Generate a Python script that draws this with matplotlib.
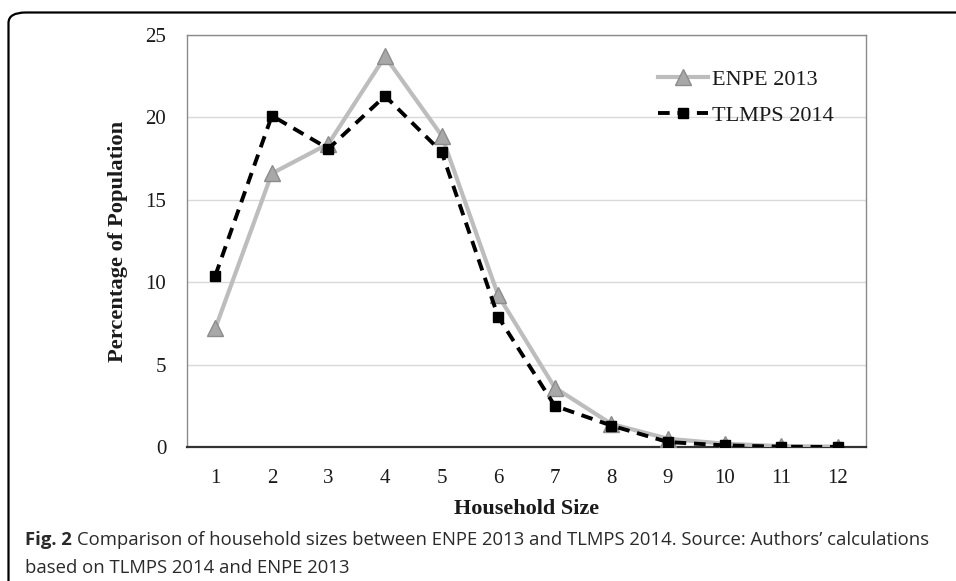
import matplotlib
matplotlib.use("Agg")
import matplotlib.pyplot as plt
from matplotlib.patches import FancyBboxPatch

household_size = ["1", "2", "3", "4", "5", "6", "7", "8", "9", "10", "11", "12"]
enpe_2013 = [7.2, 16.6, 18.4, 23.7, 18.9, 9.2, 3.6, 1.4, 0.5, 0.2, 0.05, 0.02]
tlmps_2014 = [10.4, 20.1, 18.1, 21.3, 17.9, 7.9, 2.5, 1.3, 0.3, 0.1, 0.02, 0.0]
y_ticks = [0, 5, 10, 15, 20, 25]

W, H = 956, 581
fig = plt.figure(figsize=(W / 100, H / 100), dpi=100)
fig.patch.set_facecolor("white")

# outer rounded frame (open to right and bottom)
box = FancyBboxPatch((8.5 / W, -40 / H), (W + 40) / W, (H - 12.5 + 40) / H,
                     boxstyle="round,pad=0,rounding_size=0.018",
                     transform=fig.transFigure, fill=False, edgecolor="black",
                     linewidth=1.6, clip_on=False)
fig.patches.append(box)

ax = fig.add_axes([187 / W, 1 - 447 / H, (866 - 187) / W, (447 - 35) / H])
x = list(range(1, len(household_size) + 1))
serif = "Liberation Serif"

ax.plot(x, enpe_2013, color="#bdbdbd", linewidth=3, marker="^", markersize=11,
        markerfacecolor="#a8a8a8", markeredgecolor="#8c8c8c", markeredgewidth=1,
        label="ENPE 2013", zorder=3)
ax.plot(x, tlmps_2014, color="black", linewidth=2.8, linestyle=(0, (3, 2)),
        marker="s", markersize=6.5, markerfacecolor="black", markeredgecolor="black",
        label="TLMPS 2014", zorder=4)

ax.set_xlim(0.5, len(household_size) + 0.5)
ax.set_ylim(0, 25)
ax.set_xticks(x)
ax.set_xticklabels(household_size)
ax.set_yticks(y_ticks)
ax.tick_params(length=0, labelsize=15, labelcolor="#1a1a1a")
for lab in ax.get_xticklabels() + ax.get_yticklabels():
    lab.set_fontfamily(serif)
ax.tick_params(axis="y", pad=15)
ax.tick_params(axis="x", pad=16)

ax.yaxis.grid(True, color="#d9d9d9", linewidth=1)
ax.set_axisbelow(True)
for s in ["left", "top", "right"]:
    ax.spines[s].set_color("#8a8a8a")
    ax.spines[s].set_linewidth(1)
ax.spines["bottom"].set_color("#333333")
ax.spines["bottom"].set_linewidth(1.6)

ax.set_xlabel("Household Size", fontfamily=serif, fontweight="bold", fontsize=16,
              labelpad=8, color="#1a1a1a")
ax.set_ylabel("Percentage of Population", fontfamily=serif, fontweight="bold",
              fontsize=16.2, color="#1a1a1a")
ax.yaxis.set_label_coords(-(187 - 128) / 679, 0.5)

leg = ax.legend(loc="upper left", bbox_to_anchor=((658 - 187) / 679, (447 - 69) / 412),
                frameon=False, prop={"family": serif, "size": 16}, handlelength=2.25,
                handletextpad=0.2, labelspacing=0.72, borderaxespad=0, borderpad=0)
for t in leg.get_texts():
    t.set_color("#1a1a1a")

# caption
r = fig.canvas.get_renderer()
cap_font = "Open Sans"
cap_size = 13.3
cap_col = "#2a2a2a"
t1 = fig.text(25 / W, 1 - 540 / H, "Fig. 2", fontfamily=cap_font, fontweight="bold",
              fontsize=cap_size, va="center", ha="left", color=cap_col)
bb = t1.get_window_extent(renderer=r)
fig.text((bb.x1 + 5) / W, 1 - 540 / H,
         "Comparison of household sizes between ENPE 2013 and TLMPS 2014. Source: Authors\u2019 calculations",
         fontfamily=cap_font, fontsize=cap_size, va="center", ha="left", color=cap_col)
fig.text(25 / W, 1 - 568 / H, "based on TLMPS 2014 and ENPE 2013",
         fontfamily=cap_font, fontsize=cap_size, va="center", ha="left", color=cap_col)

fig.savefig("out.png", dpi=100, facecolor="white")
